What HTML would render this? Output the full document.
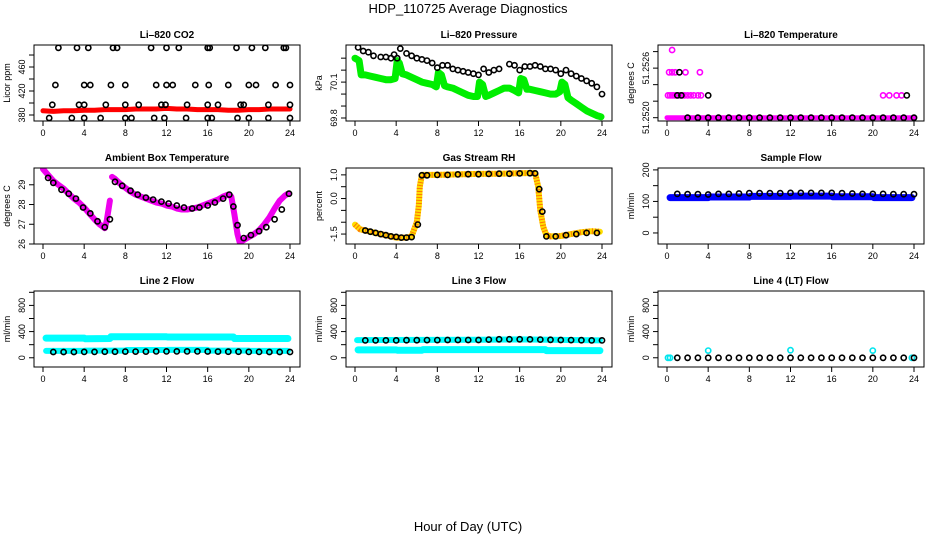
<!DOCTYPE html>
<html><head><meta charset="utf-8">
<style>
html,body{margin:0;padding:0;background:#fff;}
svg{display:block;font-family:"Liberation Sans",sans-serif;}
</style></head>
<body>
<svg id="chart" width="936" height="540" viewBox="0 0 936 540" xmlns="http://www.w3.org/2000/svg">
<text x="468" y="13" text-anchor="middle" font-size="13">HDP_110725  Average Diagnostics</text>
<text x="468" y="531" text-anchor="middle" font-size="13">Hour of Day (UTC)</text>
</svg>
<script>
// ---- data ----
const xTicks = [0,4,8,12,16,20,24];
// CO2
const co2BlackHours = [1.5,3.3,4.4,6.8,7.2,10.5,12.0,13.2,16.0,16.2,18.8,20.3,21.6,23.4,23.6,
 1.2,4.0,4.6,6.6,8.0,11.0,12.0,12.6,14.8,16.1,18.0,20.0,20.7,22.6,24.0,
 0.9,3.5,4.0,6.1,8.0,9.3,11.5,11.9,14.0,16.0,17.0,19.2,19.5,21.9,24.0,
 0.6,2.8,4.0,5.6,8.0,8.6,10.8,11.8,13.9,16.0,16.4,18.9,20.0,21.9,24.0];
const co2BlackVals = [492,492,492,492,492,492,492,492,492,492,492,492,492,492,492,
 430,430,430,430,430,430,430,430,430,430,430,430,430,430,430,
 397,397,397,397,397,397,397,397,397,397,397,397,397,397,397,
 375,375,375,375,375,375,375,375,375,375,375,375,375,375,375];
const co2RedHours = [0,1,2,3,4,5,6,7,8,9,10,11,12,13,14,15,16,17,18,19,20,21,22,23,24];
const co2RedVals = [387,386,387,387,388,388,389,389,389,390,390,390,391,390,390,389,389,389,388,388,389,389,390,390,390];
// Pressure
const presGreenHours = [0,0.4,0.6,1,1.5,2,2.5,3,3.5,3.9,4.1,4.3,4.6,5,5.5,6,6.5,7,7.5,7.9,8.1,8.4,8.7,9,9.5,10,10.5,11,11.5,11.9,12.1,12.4,12.7,13,13.5,14,14.5,15,15.5,15.9,16.1,16.4,16.7,17,17.5,18,18.5,19,19.5,19.9,20.1,20.4,20.7,21,21.5,22,22.5,23,23.5,23.9];
const presGreenVals = [70.30,70.28,70.16,70.16,70.15,70.14,70.13,70.12,70.12,70.13,70.28,70.26,70.17,70.16,70.14,70.12,70.10,70.09,70.08,70.06,70.18,70.16,70.07,70.06,70.05,70.03,70.01,69.99,69.98,69.98,70.10,70.08,69.98,69.99,70.01,70.03,70.05,70.05,70.03,70.01,70.13,70.12,70.04,70.04,70.03,70.02,70.01,70.00,70.00,70.02,70.10,70.08,69.97,69.95,69.92,69.89,69.86,69.84,69.82,69.81];
const presBlackHours = [0.3,0.8,1.3,1.8,2.5,3.0,3.5,3.8,4.1,4.4,5.0,5.5,6.0,6.5,7.0,7.5,8.0,8.5,9.0,9.5,10.0,10.5,11.0,11.5,12.0,12.5,13.0,13.5,14.0,15.0,15.5,16.0,16.5,17.0,17.5,18.0,18.5,19.0,19.5,20.0,20.5,21.0,21.5,22.0,22.5,23.0,23.5,24.0];
const presBlackVals = [70.39,70.36,70.35,70.32,70.31,70.31,70.30,70.33,70.30,70.38,70.34,70.32,70.30,70.29,70.28,70.26,70.22,70.24,70.24,70.21,70.20,70.19,70.18,70.17,70.16,70.21,70.18,70.20,70.21,70.25,70.24,70.20,70.23,70.23,70.24,70.23,70.21,70.21,70.20,70.17,70.20,70.17,70.15,70.13,70.11,70.09,70.06,70.00];
// Li-820 temperature
const ltMagHours = [0.1,0.3,0.5,0.7,0.9,1.1,1.3,1.5,1.7,2.0,2.3,2.6,3.0,3.3,21.0,21.6,22.3,22.8, 0.2,0.5,0.8,1.8,3.2, 0.5];
const ltMagVals = [51.25227,51.25227,51.25227,51.25227,51.25227,51.25227,51.25227,51.25227,51.25227,51.25227,51.25227,51.25227,51.25227,51.25227,51.25227,51.25227,51.25227,51.25227, 51.25255,51.25255,51.25255,51.25255,51.25255, 51.25282];
const ltBandHours = [0,24];
const ltBandVals = [51.2520,51.2520];
const ltBlackHours = [1.0,1.4,4.0,23.3,1.2,2,3,4,5,6,7,8,9,10,11,12,13,14,15,16,17,18,19,20,21,22,23,24];
const ltBlackVals = [51.25227,51.25227,51.25227,51.25227,51.25255,51.2520,51.2520,51.2520,51.2520,51.2520,51.2520,51.2520,51.2520,51.2520,51.2520,51.2520,51.2520,51.2520,51.2520,51.2520,51.2520,51.2520,51.2520,51.2520,51.2520,51.2520,51.2520,51.2520];
// Ambient box temperature
const ambPinkHours = [0,0.5,1,1.5,2,2.5,3,3.5,4,4.5,5,5.5,6,6.2,6.5,6.7,7,7.5,8,8.5,9,9.5,10,10.5,11,11.5,12,12.5,13,13.5,14,14.5,15,15.5,16,16.5,17,17.5,18,18.3,18.6,18.9,19.1,19.5,20,20.5,21,21.5,22,22.5,23,23.5,23.8];
const ambPinkVals = [29.8,29.5,29.2,29.0,28.8,28.55,28.3,28.1,27.85,27.55,27.25,27.0,26.8,27.2,28.2,29.4,29.3,29.05,28.85,28.65,28.5,28.4,28.3,28.2,28.1,28.05,27.95,27.9,27.8,27.75,27.75,27.8,27.85,27.95,28.05,28.15,28.25,28.4,28.5,28.4,27.5,26.5,26.1,26.2,26.35,26.5,26.7,27.0,27.35,27.8,28.2,28.45,28.55];
const ambBlackHours = [0.5,1,1.8,2.5,3.2,3.9,4.6,5.3,6.0,6.5,7.0,7.7,8.5,9.2,10,10.7,11.5,12.2,13,13.7,14.5,15.2,16,16.7,17.5,18.1,18.5,18.9,19.5,20.2,21,21.7,22.5,23.2,23.9];
const ambBlackVals = [29.35,29.1,28.75,28.55,28.3,27.85,27.55,27.15,26.85,27.25,29.15,28.95,28.7,28.5,28.35,28.25,28.15,28.05,27.95,27.85,27.8,27.85,27.95,28.1,28.3,28.5,27.9,26.95,26.3,26.45,26.65,26.85,27.25,27.75,28.55];
// Gas stream RH
const rhColHours = [0,0.5,1,1.5,2,2.5,3,3.5,4,4.5,5,5.5,6,6.2,6.3,6.5,8,10,12,14,16,17.5,17.8,18,18.3,18.6,19,20,21,22,23,23.8];
const rhColVals = [-1.1,-1.3,-1.35,-1.4,-1.45,-1.5,-1.55,-1.6,-1.65,-1.65,-1.65,-1.6,-1.0,-0.3,0.5,1.0,1.0,1.02,1.04,1.05,1.07,1.08,0.5,-0.5,-1.2,-1.55,-1.6,-1.58,-1.5,-1.42,-1.38,-1.4];
const rhBlackHours = [1,1.5,2,2.5,3,3.5,4,4.5,5,5.5,6.1,6.5,7,8,9,10,11,12,13,14,15,16,17,17.5,17.9,18.2,18.6,19.5,20.5,21.5,22.5,23.5];
const rhBlackVals = [-1.35,-1.4,-1.45,-1.5,-1.55,-1.6,-1.62,-1.65,-1.65,-1.63,-1.1,0.98,0.98,1.0,1.0,1.02,1.03,1.03,1.04,1.05,1.05,1.06,1.07,1.06,0.4,-0.55,-1.6,-1.6,-1.55,-1.5,-1.45,-1.45];
// Sample flow
const sfBlueHours = [0.3,4,4.1,8,8.1,12,12.1,16,16.1,20,20.1,23.8];
const sfBlueVals = [112,112,114,114,116,116,117,117,115,115,112,112];
const sfBlackHours = [1,2,3,4,5,6,7,8,9,10,11,12,13,14,15,16,17,18,19,20,21,22,23,24];
const sfBlackVals = [124,123,123,122,124,124,125,126,126,126,126,127,127,127,127,127,126,125,124,124,124,123,123,123];
// Line 2 flow
const l2CyanHiHours = [0.3,4,4.1,6.5,6.6,12,12.1,18.5,18.6,23.8];
const l2CyanHiVals = [300,300,290,295,320,320,318,318,295,295];
const l2CyanLoHours = [0.3,4,4.1,8,8.1,12,12.1,16,16.1,20,20.1,23.8];
const l2CyanLoVals = [105,105,110,110,118,118,120,120,110,110,105,105];
const l2BlackHours = [1,2,3,4,5,6,7,8,9,10,11,12,13,14,15,16,17,18,19,20,21,22,23,24];
const l2BlackVals = [88,88,88,90,90,92,92,95,95,95,97,98,98,98,97,96,94,93,92,90,90,88,88,88];
// Line 3 flow
const l3CyanHiHours = [0.2,0.5,12,16,23.8];
const l3CyanHiVals = [270,270,275,280,265];
const l3CyanLoHours = [0.3,4,4.1,6.5,6.6,18.5,18.6,23.8];
const l3CyanLoVals = [120,120,115,115,125,125,110,110];
const l3BlackHours = [1,2,3,4,5,6,7,8,9,10,11,12,13,14,15,16,17,18,19,20,21,22,23,24];
const l3BlackVals = [265,265,265,265,268,268,270,270,272,272,272,272,278,282,282,282,280,278,275,272,270,268,265,265];
// Line 4 flow
const l4CyanHours = [0.1,0.3,4,12,20,23.8];
const l4CyanVals = [0,0,110,115,110,0];
const l4BlackHours = [1,2,3,4,5,6,7,8,9,10,11,12,13,14,15,16,17,18,19,20,21,22,23,24];
const l4BlackVals = [0,0,0,0,0,0,0,0,0,0,0,0,0,0,0,0,0,0,0,0,0,0,0,0];

// ---- ticks ----
const co2Ticks = [380,400,420,440,460,480], co2Labels = ['380','','420','','460',''];
const presTicks = [69.8,69.9,70.0,70.1,70.2,70.3], presLabels = ['69.8','','','70.1','',''];
const ltTicks = [51.2520,51.2522,51.2524,51.2526,51.2528], ltLabels = ['51.2520','','','51.2526',''];
const ambTicks = [26,27,28,29], ambLabels = ['26','27','28','29'];
const rhTicks = [-1.5,-1.0,-0.5,0.0,0.5,1.0], rhLabels = ['-1.5','','','0.0','','1.0'];
const sfTicks = [0,50,100,150,200], sfLabels = ['0','','100','','200'];
const lfTicks = [0,200,400,600,800,1000], lfLabels = ['0','','400','','800',''];

const NS = 'http://www.w3.org/2000/svg';
const svg = document.getElementById('chart');
const COLS = [34,346,658], ROWT = [45,168,291], W = 266, H = 76;
function mk(tag, attrs, parent){const e=document.createElementNS(NS,tag);for(const k in attrs)e.setAttribute(k,attrs[k]);(parent||svg).appendChild(e);return e;}

const panels = [
 {c:0,r:0,name:'co2',title:'Li\u2013820 CO2',ylab:'Licor ppm',ymin:370,ymax:496.7,ticks:co2Ticks,labels:co2Labels,
  series:[{h:co2RedHours,v:co2RedVals,kind:'band',color:'#ff0000',w:5},{h:co2BlackHours,v:co2BlackVals,kind:'pts',color:'#000'}]},
 {c:1,r:0,name:'pressure',title:'Li\u2013820 Pressure',ylab:'kPa',ymin:69.775,ymax:70.41,ticks:presTicks,labels:presLabels,
  series:[{h:presGreenHours,v:presGreenVals,kind:'band',color:'#00ee00',w:7},{h:presBlackHours,v:presBlackVals,kind:'pts',color:'#000'}]},
 {c:2,r:0,name:'li820-temperature',title:'Li\u2013820 Temperature',ylab:'degrees C',ymin:51.25196,ymax:51.25288,ticks:ltTicks,labels:ltLabels,
  series:[{h:ltBandHours,v:ltBandVals,kind:'band',color:'#ff00ff',w:5},{h:ltMagHours,v:ltMagVals,kind:'pts',color:'#ff00ff'},{h:ltBlackHours,v:ltBlackVals,kind:'pts',color:'#000'}]},
 {c:0,r:1,name:'ambient-temperature',title:'Ambient Box Temperature',ylab:'degrees C',ymin:26,ymax:29.85,ticks:ambTicks,labels:ambLabels,
  series:[{h:ambPinkHours,v:ambPinkVals,kind:'band',color:'#ee00ee',w:6,breakAt:6.6},{h:ambBlackHours,v:ambBlackVals,kind:'pts',color:'#000'}]},
 {c:1,r:1,name:'gas-stream-rh',title:'Gas Stream RH',ylab:'percent',ymin:-1.92,ymax:1.29,ticks:rhTicks,labels:rhLabels,
  series:[{h:rhColHours,v:rhColVals,kind:'band',color:'#ffdd00',w:6,stroke2:'#ff3300'},{h:rhBlackHours,v:rhBlackVals,kind:'pts',color:'#000'}]},
 {c:2,r:1,name:'sample-flow',title:'Sample Flow',ylab:'ml/min',ymin:-35,ymax:206,ticks:sfTicks,labels:sfLabels,
  series:[{h:sfBlueHours,v:sfBlueVals,kind:'band',color:'#0000ff',w:7},{h:sfBlackHours,v:sfBlackVals,kind:'pts',color:'#000'}]},
 {c:0,r:2,name:'line2-flow',title:'Line 2 Flow',ylab:'ml/min',ymin:-141,ymax:1020,ticks:lfTicks,labels:lfLabels,
  series:[{h:l2CyanHiHours,v:l2CyanHiVals,kind:'band',color:'#00ffff',w:7},{h:l2CyanLoHours,v:l2CyanLoVals,kind:'band',color:'#00ffff',w:6},{h:l2BlackHours,v:l2BlackVals,kind:'pts',color:'#000'}]},
 {c:1,r:2,name:'line3-flow',title:'Line 3 Flow',ylab:'ml/min',ymin:-141,ymax:1020,ticks:lfTicks,labels:lfLabels,
  series:[{h:l3CyanHiHours,v:l3CyanHiVals,kind:'band',color:'#00ffff',w:6},{h:l3CyanLoHours,v:l3CyanLoVals,kind:'band',color:'#00ffff',w:7},{h:l3BlackHours,v:l3BlackVals,kind:'pts',color:'#000'}]},
 {c:2,r:2,name:'line4-flow',title:'Line 4 (LT) Flow',ylab:'ml/min',ymin:-141,ymax:1020,ticks:lfTicks,labels:lfLabels,
  series:[{h:l4CyanHours,v:l4CyanVals,kind:'pts',color:'#00e5ee'},{h:l4BlackHours,v:l4BlackVals,kind:'pts',color:'#000'}]}
];

panels.forEach(p=>{
  const L=COLS[p.c], T=ROWT[p.r], B=T+H;
  const g=mk('g',{});
  
  
  const xs=h=>L+9+h*247/24;
  const ys=v=>B-(v-p.ymin)/(p.ymax-p.ymin)*H;
  const clip=mk('clipPath',{id:'clip-'+p.name},g);
  mk('rect',{x:L,y:T,width:W,height:H},clip);
  const t=mk('text',{x:L+W/2,y:T-7,'text-anchor':'middle','font-size':'10','font-weight':'bold'},g);
  t.textContent=p.title;
  
  
  const yl=mk('text',{x:0,y:0,'text-anchor':'middle','font-size':'9',transform:`translate(${L-24},${T+H/2}) rotate(-90)`},g);
  yl.textContent=p.ylab;
  
  
  const dg=mk('g',{'clip-path':`url(#clip-${p.name})`},g);
  p.series.forEach(s=>{
    if(s.kind==='band'){
      let segs=[[]];
      s.h.forEach((h,i)=>{ if(s.breakAt!==undefined && i>0 && s.h[i-1]<s.breakAt && h>=s.breakAt) segs.push([]); segs[segs.length-1].push(xs(h).toFixed(1)+','+ys(s.v[i]).toFixed(1)); });
      segs.forEach(sg=>{
        const pl=mk('polyline',{points:sg.join(' '),fill:'none',stroke:s.color,'stroke-width':s.w,'stroke-linecap':'round','stroke-linejoin':'round'},dg);
        
        
        if(s.stroke2){mk('polyline',{points:sg.join(' '),fill:'none',stroke:s.stroke2,'stroke-width':s.w,'stroke-dasharray':'1 2','stroke-linecap':'butt','stroke-linejoin':'round',opacity:'0.6'},dg);}
      });
    } else {
      s.h.forEach((h,i)=>{
        const c=mk('circle',{cx:xs(h).toFixed(1),cy:ys(s.v[i]).toFixed(1),r:2.6,fill:'none',stroke:s.color,'stroke-width':1.6},dg);
        
        
      });
    }
  });
  const box=mk('rect',{x:L,y:T,width:W,height:H,fill:'none',stroke:'#000','stroke-width':1},g);
  
  
  xTicks.forEach(h=>{
    mk('line',{x1:xs(h),x2:xs(h),y1:B,y2:B+5,stroke:'#000'},g);
    const tx=mk('text',{x:xs(h),y:B+15,'text-anchor':'middle','font-size':'9'},g);
    tx.textContent=String(h);
    
    
  });
  p.ticks.forEach((v,i)=>{
    mk('line',{x1:L-5,x2:L,y1:ys(v),y2:ys(v),stroke:'#000'},g);
    if(p.labels[i]){
      const ty=mk('text',{x:0,y:0,'text-anchor':'middle','font-size':'9',transform:`translate(${L-9},${ys(v)}) rotate(-90)`},g);
      ty.textContent=p.labels[i];
      
      
    }
  });
});
</script>
</body></html>
